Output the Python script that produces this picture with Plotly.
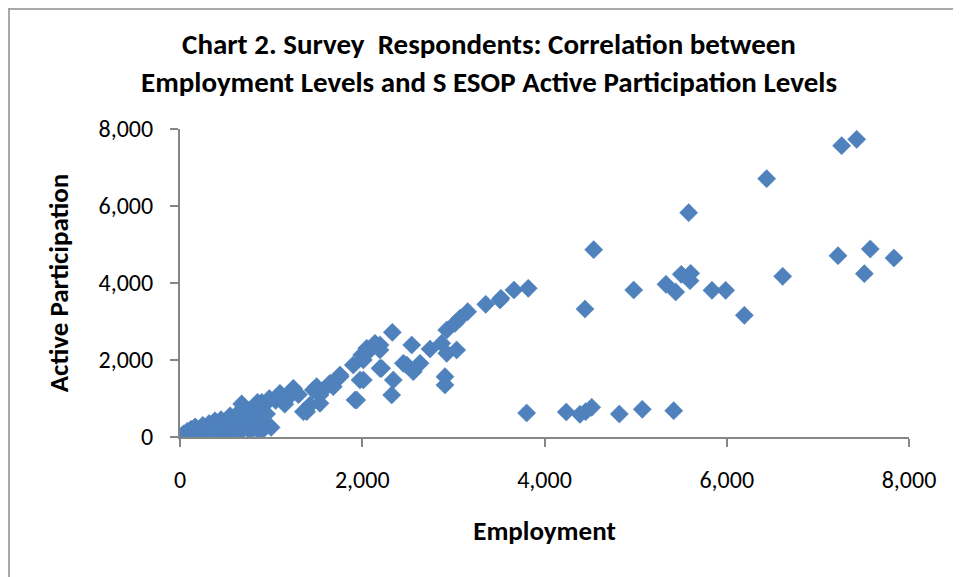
import plotly.graph_objects as go

employment = [
    20, 40, 60, 80, 100, 120, 150, 165, 170, 200, 220, 250, 270, 300, 320, 350, 380, 384, 400, 420,
    450, 470, 500, 520, 550, 570, 580, 600, 620, 650, 660, 677, 690, 700, 720, 750, 770, 800, 820, 850,
    860, 880, 897, 900, 920, 950, 980, 1000, 1050, 1097, 1134, 1150, 1200, 1244, 1244, 1300, 1354, 1390,
    1427, 1463, 1500, 1536, 1536, 1573, 1646, 1682, 1756, 1756, 1902, 1921, 1939, 1975, 1994, 2012, 2012,
    2049, 2085, 2140, 2195, 2195, 2195, 2213, 2323, 2330, 2341, 2451, 2488, 2543, 2560, 2634, 2744, 2872,
    2908, 2908, 2927, 2927, 3018, 3036, 3073, 3157, 3355, 3512, 3522, 3665, 3822, 3804, 4239, 4389, 4452,
    4518, 4821, 5073, 5418, 4444, 4540, 4979, 5333, 5440, 5501, 5582, 5597, 5604, 5838, 5988, 6193, 6438,
    6614, 7221, 7261, 7426, 7510, 7575, 7835,
]
participation = [
    30, 80, 10, 150, 60, 200, 100, 260, 250, 30, 180, 300, 120, 20, 350, 220, 400, 420, 100, 300,
    450, 180, 50, 380, 550, 250, 0, 120, 480, 650, 300, 860, 200, 780, 520, 400, 150, 700, 280, 900,
    500, 120, 900, 350, 820, 600, 1000, 250, 950, 1135, 961, 850, 1050, 1221, 1264, 1100, 657, 657,
    831, 1221, 1307, 875, 1091, 1221, 1394, 1307, 1566, 1610, 1870, 961, 961, 1481, 2130, 2000, 1481,
    2304, 2260, 2433, 2390, 2260, 1784, 1784, 1091, 2719, 1481, 1914, 1870, 2390, 1696, 1914, 2286, 2433,
    1566, 1351, 2779, 2174, 2953, 2260, 3083, 3255, 3447, 3558, 3603, 3818, 3862, 623, 649, 589, 657,
    771, 597, 719, 683, 3325, 4865, 3818, 3966, 3766, 4225, 5826, 4060, 4251, 3810, 3810, 3161, 6709,
    4173, 4709, 7566, 7732, 4241, 4883, 4649,
]

title_text = "Chart 2. Survey  Respondents: Correlation between<br>Employment Levels and S ESOP Active Participation Levels"
x_title = "Employment"
y_title = "Active Participation"
tick_vals = [0, 2000, 4000, 6000, 8000]
tick_text = ["0", "2,000", "4,000", "6,000", "8,000"]

W, H = 961, 577
ML, MR, MT, MB = 172, 60, 121, 148
pw, ph = W - ML - MR, H - MT - MB

font_main = "Carlito, Calibri, Lato, sans-serif"
axis_col = "#868686"

fig = go.Figure(go.Scatter(
    x=employment, y=participation, mode="markers",
    marker=dict(symbol="diamond", size=14, color="#4F81BD",
                line=dict(color="#4A7EBB", width=0.5)),
    showlegend=False,
))

axis_common = dict(
    range=[0, 8000], tickvals=tick_vals, ticktext=tick_text,
    showgrid=False, zeroline=False, showline=True, linecolor=axis_col, linewidth=2,
    ticks="outside", ticklen=8, tickcolor=axis_col, tickwidth=2, automargin=False,
    tickfont=dict(family=font_main, size=24, color="#000000"),
)

fig.update_layout(
    width=W, height=H,
    margin=dict(l=ML, r=MR, t=MT, b=MB),
    paper_bgcolor="white", plot_bgcolor="white",
    title=dict(text="<b>" + title_text + "</b>", x=481 / W, xanchor="center",
               y=1 - 46 / H, yanchor="middle",
               font=dict(family=font_main, size=29, color="#000000")),
    xaxis=dict(**axis_common, ticklabelstandoff=12,
               title=dict(text="<b>" + x_title + "</b>", standoff=28,
                          font=dict(family=font_main, size=27, color="#000000"))),
    yaxis=dict(**axis_common, ticklabelstandoff=12,
               title=dict(text="<b>" + y_title + "</b>", standoff=22,
                          font=dict(family=font_main, size=27, color="#000000"))),
    shapes=[
        dict(type="line", xref="paper", yref="paper",
             x0=(1 - ML) / pw, x1=(1 - ML) / pw, y0=(H - MB) / ph, y1=(H - MB - 600) / ph,
             line=dict(color="#8C8C8C", width=1.5)),
        dict(type="line", xref="paper", yref="paper",
             x0=(1 - ML) / pw, x1=(1000 - ML) / pw, y0=(H - MB - 1) / ph, y1=(H - MB - 1) / ph,
             line=dict(color="#8C8C8C", width=1.5)),
    ],
)

fig.write_html("out.html")
